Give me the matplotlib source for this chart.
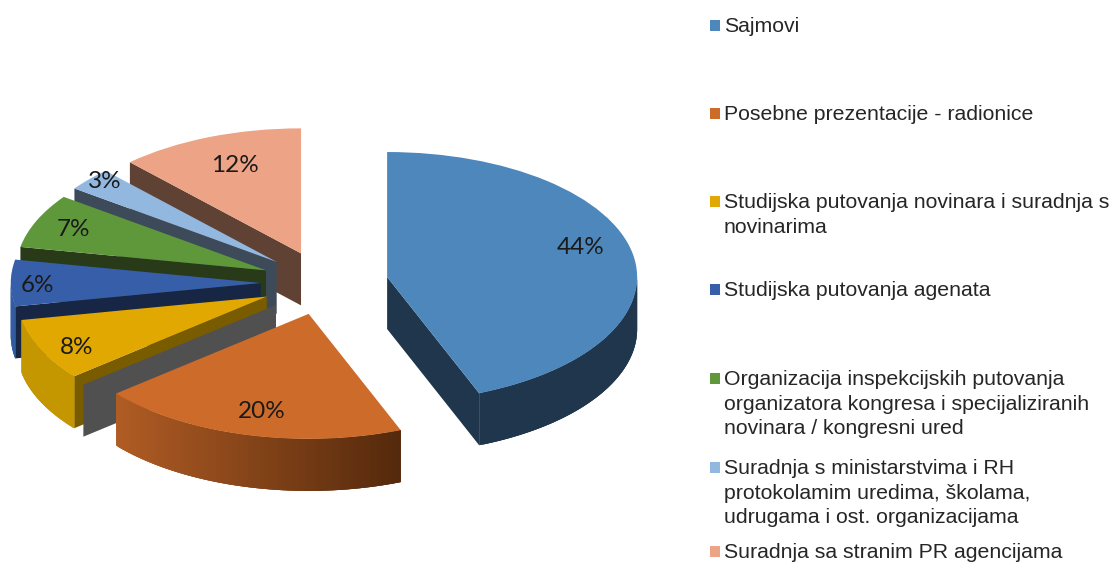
import numpy as np
import matplotlib
matplotlib.use('Agg')
import matplotlib.pyplot as plt
from matplotlib.collections import PolyCollection
from matplotlib.patches import Rectangle

# podaci
categories = [
    'Sajmovi',
    'Posebne prezentacije - radionice',
    'Studijska putovanja novinara i suradnja s\nnovinarima',
    'Studijska putovanja agenata',
    'Organizacija inspekcijskih putovanja\norganizatora kongresa i specijaliziranih\nnovinara / kongresni ured',
    'Suradnja s ministarstvima i RH\nprotokolamim uredima, školama,\nudrugama i ost. organizacijama',
    'Suradnja sa stranim PR agencijama',
]
shares = [44, 20, 8, 6, 7, 3, 12]

# boje: vrh, rezna stijenka, vanjska stijenka lijevo / desno
top_colors = ['#4e87bb', '#cd6b2a', '#e0a800', '#375fa9', '#5e983a', '#92b8e0', '#eca386']
cut_colors = ['#20364c', '#5a2c0c', '#7a5c00', '#162644', '#283a18', '#3c4a5a', '#604234']
rim_left = ['#20364c', '#b05c24', '#c49600', '#325ca0', '#3f6627', '#3c4a5a', '#604234']
rim_right = ['#20364c', '#54290c', '#c49600', '#325ca0', '#3f6627', '#3c4a5a', '#604234']

# redoslijed crtanja, od straznjih prema prednjim
draw_order = [6, 5, 4, 3, 2, 1, 0]

explode_amount = 0.255
depth = 0.416  # debljina u jedinicama pite
px_per_x, px_per_y = 250, 125
center_px = (324.5, 283)
W, H = 1113, 563

fig = plt.figure(figsize=(W / 100, H / 100), dpi=100)
ax = fig.add_axes([0, 0, 1, 1])
wedges, _ = ax.pie(shares, colors=top_colors, explode=[explode_amount] * len(shares),
                   startangle=90, counterclock=False, wedgeprops={'linewidth': 0})
ax.set_aspect('auto')
ax.set_xlim(-center_px[0] / px_per_x, (W - center_px[0]) / px_per_x)
ax.set_ylim((center_px[1] - H) / px_per_y, center_px[1] / px_per_y)


def radial_wall(cx, cy, angle, r):
    a = np.radians(angle)
    x, y = cx + r * np.cos(a), cy + r * np.sin(a)
    return [(cx, cy), (x, y), (x, y - depth), (cx, cy - depth)]


def draw_walls(cx, cy, t1, t2, r, cut, left, right, z):
    # samo stijenke okrenute prema gledatelju
    walls = []
    if np.sin(np.radians(t1 - 90)) < -1e-6:
        walls.append(radial_wall(cx, cy, t1, r))
    if np.sin(np.radians(t2 + 90)) < -1e-6:
        walls.append(radial_wall(cx, cy, t2, r))
    if walls:
        ax.add_collection(PolyCollection(walls, facecolors=cut, edgecolors='none', zorder=z))

    # vanjski luk u komadima koji se preklapaju, zbog prijelaza boje
    angles = np.linspace(t1, t2, int((t2 - t1) * 2) + 2)
    angles = np.radians(angles[np.sin(np.radians(angles)) <= 0.001])
    if len(angles) < 2:
        return
    xs = cx + r * np.cos(angles)
    ys = cy + r * np.sin(angles)
    left_rgb = np.array(matplotlib.colors.to_rgb(left))
    right_rgb = np.array(matplotlib.colors.to_rgb(right))
    # prijelaz ide preko cijele sirine isjecka
    span = max(xs.max() - xs.min(), 1e-6)
    polys, cols = [], []
    for i in range(len(xs) - 1):
        j = min(i + 3, len(xs) - 1)
        polys.append([(xs[k], ys[k]) for k in range(i, j + 1)]
                     + [(xs[k], ys[k] - depth) for k in range(j, i - 1, -1)])
        f = (xs[i] - xs.min()) / span
        cols.append(left_rgb + (right_rgb - left_rgb) * f)
    ax.add_collection(PolyCollection(polys, facecolors=cols, edgecolors='none', zorder=z + 0.1))


for rank, i in enumerate(draw_order):
    w = wedges[i]
    z = 2 * rank + 2
    draw_walls(w.center[0], w.center[1], w.theta1, w.theta2, w.r,
               cut_colors[i], rim_left[i], rim_right[i], z)
    w.set_zorder(z + 0.5)

# siva stijenka iza narancastog isjecka
grey_center = ((276 - center_px[0]) / px_per_x, (center_px[1] - 305) / px_per_y)
grey_z = 2 * draw_order.index(1) + 1.5
ax.add_collection(PolyCollection(
    [radial_wall(grey_center[0], grey_center[1], wedges[1].theta1, wedges[1].r)],
    facecolors='#505050', edgecolors='none', zorder=grey_z))

# sloj u pikselima za natpise i legendu
overlay = fig.add_axes([0, 0, 1, 1], facecolor='none')
overlay.set_xlim(0, W)
overlay.set_ylim(H, 0)
overlay.axis('off')

label_px = [(581, 248), (262, 412), (77, 347), (38, 286), (74, 230), (105, 182), (235, 166)]
for value, (x, y) in zip(shares, label_px):
    overlay.text(x, y, f'{value}%', fontsize=17.5, family='Lato', color='#1a1a1a',
                 ha='center', va='center')

# zadnji red je malo podignut da mu se ne odrezu descenderi
legend_y = [25, 113, 201, 289, 378, 467, 551]
for name, color, y in zip(categories, top_colors, legend_y):
    overlay.add_patch(Rectangle((710, y - 5), 10, 10.5, facecolor=color, edgecolor='none'))
    for k, line in enumerate(name.split('\n')):
        overlay.text(724, y + 7 + k * 24.7, line, fontsize=15.3, family='Liberation Sans',
                     color='#262626', ha='left', va='baseline')

fig.savefig('out.png', dpi=100)
